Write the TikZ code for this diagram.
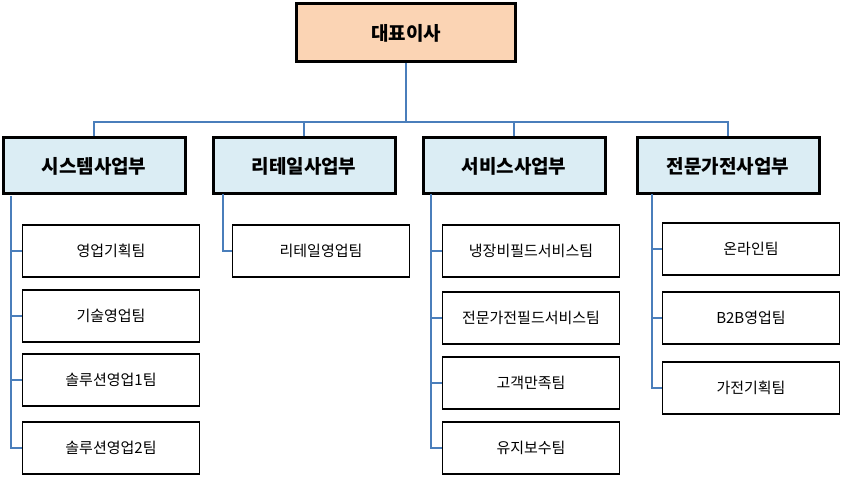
\documentclass[tikz,border=0pt]{standalone}
\usepackage{fontspec}
\setmainfont{Noto Sans CJK KR}
\begin{document}
\begin{tikzpicture}[x=1pt,y=-1pt,
 ln/.style={draw={rgb,255:red,74;green,126;blue,187},line width=1.8pt},
 top/.style={draw=black,line width=3pt,fill={rgb,255:red,251;green,212;blue,180},minimum width=219,minimum height=58,font=\bfseries\fontsize{19}{22}\selectfont},
 dept/.style={draw=black,line width=3pt,fill={rgb,255:red,219;green,237;blue,244},minimum width=182,minimum height=56,font=\bfseries\fontsize{19}{22}\selectfont},
 team/.style={draw=black,line width=1.3pt,fill=white,minimum width=177,minimum height=52,font=\fontsize{15}{18}\selectfont}]
\useasboundingbox (0,0) rectangle (843,478);
\node[top] (ceo) at (406,33) {대표이사};
\node[dept] (d1) at (94,166) {시스템사업부};
\node[dept] (d2) at (304,166) {리테일사업부};
\node[dept] (d3) at (514,166) {서비스사업부};
\node[dept] (d4) at (728,166) {전문가전사업부};
\node[team] (a1) at (111,251) {영업기획팀};
\node[team] (a2) at (111,316) {기술영업팀};
\node[team] (a3) at (111,380) {솔루션영업1팀};
\node[team] (a4) at (111,448) {솔루션영업2팀};
\node[team] (b1) at (321,251) {리테일영업팀};
\node[team] (c1) at (531,251) {냉장비필드서비스팀};
\node[team] (c2) at (531,318) {전문가전필드서비스팀};
\node[team] (c3) at (531,383) {고객만족팀};
\node[team] (c4) at (531,448) {유지보수팀};
\node[team] (e1) at (751,249) {온라인팀};
\node[team] (e2) at (751,318) {B2B영업팀};
\node[team] (e3) at (751,388) {가전기획팀};
\coordinate (h) at (406,122);
\draw[ln] (ceo.south) -- (h);
\draw[ln] (d1.north) |- (h) -| (d4.north);
\draw[ln] (d2.north) -- (d2.north|-h);
\draw[ln] (d3.north) -- (d3.north|-h);
\draw[ln] (11,196) |- (a4.west);
\foreach \n in {a1,a2,a3} \draw[ln] (11,0|-\n.west) -- (\n.west);
\draw[ln] (223,194) |- (b1.west);
\draw[ln] (431,194) |- (c4.west);
\foreach \n in {c1,c2,c3} \draw[ln] (431,0|-\n.west) -- (\n.west);
\draw[ln] (652,194) |- (e3.west);
\foreach \n in {e1,e2} \draw[ln] (652,0|-\n.west) -- (\n.west);
\end{tikzpicture}
\end{document}
